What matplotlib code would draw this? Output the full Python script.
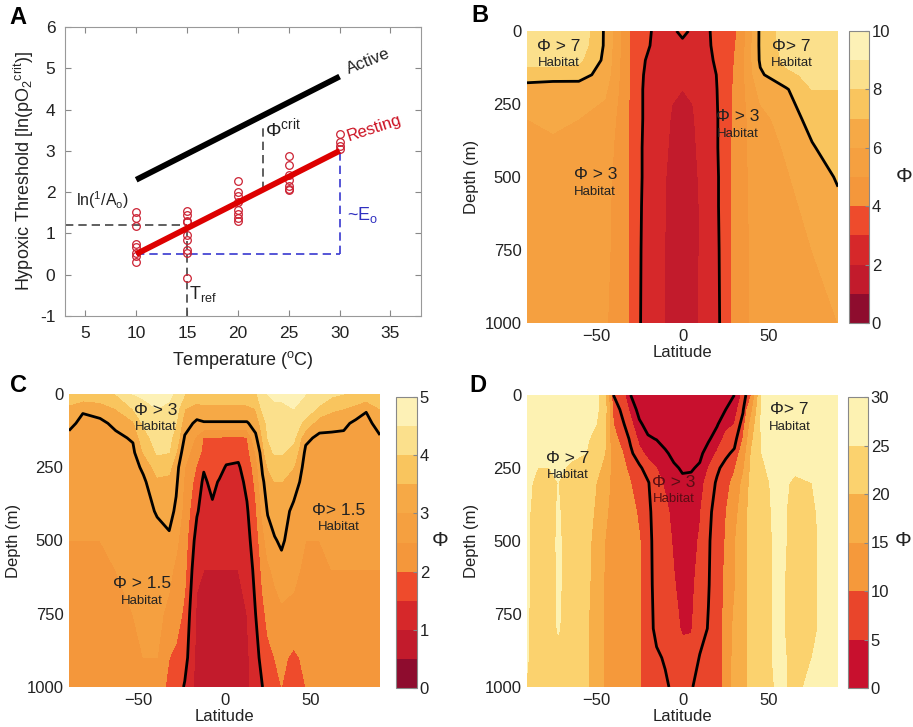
import numpy as np
import matplotlib
matplotlib.use('Agg')
import matplotlib.pyplot as plt

plt.rcParams['font.family'] = ['Liberation Sans', 'DejaVu Sans']
plt.rcParams['mathtext.fontset'] = 'custom'
plt.rcParams['mathtext.rm'] = 'Liberation Sans'
plt.rcParams['mathtext.it'] = 'Liberation Sans:italic'
plt.rcParams['mathtext.bf'] = 'Liberation Sans:bold'

# ---- panel A data ----
obs_T = [10, 15, 20, 25, 30]
obs_pcrit = [[1.52, 1.37, 1.17, 0.75, 0.67, 0.52, 0.45, 0.31],
             [1.55, 1.45, 1.30, 1.27, 0.97, 0.84, 0.60, 0.52, -0.09],
             [2.27, 2.00, 1.90, 1.75, 1.56, 1.48, 1.37, 1.29],
             [2.88, 2.65, 2.42, 2.30, 2.15, 2.08, 2.05],
             [3.40, 3.22, 3.12, 3.05]]
fit_T = [10, 30]
resting_fit = [0.5, 3.0]
active_fit = [2.3, 4.8]
ln_inv_A0 = 1.2
T_ref = 15
phi_crit_T = 22.5
phi_crit_top = 3.66

# ---- panel B data (one list per latitude, values down the depth axis) ----
lat_b = [-90, -75, -60, -45, -35, -28, -22, -18, -12, -6, 0, 6, 12, 16, 20, 26, 33, 45, 60, 75, 90]
depth_b = [0, 50, 100, 150, 200, 300, 400, 500, 600, 750, 1000]
phi_b = [
    [8.5, 8.5, 8.3, 7.6, 6.5, 6.0, 5.8, 5.6, 5.5, 5.5, 5.4],
    [8.8, 8.7, 8.4, 7.5, 6.4, 6.1, 5.9, 5.8, 5.7, 5.6, 5.5],
    [8.8, 8.6, 8.2, 7.4, 6.5, 6.0, 5.8, 5.6, 5.5, 5.5, 5.4],
    [6.9, 6.9, 6.8, 6.6, 6.2, 5.6, 5.4, 5.3, 5.2, 5.2, 5.1],
    [4.8, 4.8, 4.75, 4.7, 4.7, 4.65, 4.6, 4.6, 4.6, 4.55, 4.5],
    [3.5, 3.5, 3.5, 3.5, 3.5, 3.5, 3.5, 3.5, 3.5, 3.5, 3.5],
    [3.3, 3.2, 3.05, 2.95, 2.9, 2.9, 2.85, 2.85, 2.8, 2.75, 2.7],
    [3.0, 2.95, 2.65, 2.55, 2.5, 2.45, 2.45, 2.4, 2.4, 2.35, 2.3],
    [2.6, 2.5, 2.4, 2.3, 2.25, 2.2, 2.15, 2.1, 2.1, 2.05, 2.05],
    [2.7, 2.5, 2.3, 2.15, 2.05, 1.95, 1.9, 1.85, 1.85, 1.85, 1.85],
    [3.4, 2.6, 2.35, 2.15, 2.0, 1.9, 1.85, 1.8, 1.8, 1.8, 1.8],
    [2.7, 2.5, 2.3, 2.15, 2.05, 1.95, 1.9, 1.85, 1.85, 1.85, 1.9],
    [2.7, 2.6, 2.45, 2.35, 2.3, 2.25, 2.2, 2.15, 2.1, 2.1, 2.1],
    [3.0, 2.95, 2.85, 2.6, 2.5, 2.45, 2.45, 2.4, 2.4, 2.35, 2.3],
    [3.5, 3.4, 3.2, 3.05, 3.0, 2.95, 2.95, 2.9, 2.9, 2.85, 2.8],
    [3.6, 3.6, 3.6, 3.6, 3.6, 3.6, 3.6, 3.6, 3.6, 3.6, 3.6],
    [4.1, 4.2, 4.3, 4.4, 4.5, 4.6, 4.7, 4.7, 4.7, 4.7, 4.7],
    [7.2, 7.2, 7.15, 6.85, 6.3, 5.7, 5.5, 5.4, 5.4, 5.3, 5.3],
    [8.5, 8.4, 8.2, 7.8, 6.9, 6.4, 6.1, 5.9, 5.8, 5.7, 5.6],
    [8.8, 8.7, 8.5, 8.2, 8.0, 7.4, 6.9, 6.5, 6.2, 6.0, 5.8],
    [8.6, 8.5, 8.4, 8.2, 8.0, 7.8, 7.6, 7.1, 6.8, 6.3, 6.0],
]
levels_b = [0, 1, 2, 3, 4, 5, 6, 7, 8, 9, 10]
lines_b = [3, 7]

# ---- panel C data ----
lat_c = [-90, -82, -72, -63, -53, -47, -39, -32, -28, -23, -16, -12, -7, -3, 1, 8, 13, 18,
         22, 25, 29, 33, 40, 47, 55, 62, 69, 76, 82, 90]
depth_c = [0, 50, 100, 150, 200, 250, 300, 400, 500, 600, 750, 900, 1000]
phi_c = [
    [3.8, 3.4, 3.1, 2.9, 2.8, 2.7, 2.6, 2.6, 2.5, 2.5, 2.5, 2.4, 2.4],
    [3.9, 3.05, 2.9, 2.8, 2.7, 2.7, 2.6, 2.6, 2.5, 2.5, 2.5, 2.4, 2.4],
    [3.9, 3.2, 2.9, 2.8, 2.75, 2.7, 2.6, 2.6, 2.5, 2.5, 2.5, 2.5, 2.4],
    [4.0, 3.5, 3.1, 2.9, 2.8, 2.75, 2.7, 2.6, 2.6, 2.5, 2.5, 2.5, 2.4],
    [4.5, 4.0, 3.4, 3.05, 2.9, 2.8, 2.7, 2.65, 2.6, 2.55, 2.5, 2.5, 2.45],
    [4.6, 4.3, 4.05, 3.8, 3.5, 3.1, 2.9, 2.8, 2.7, 2.6, 2.55, 2.5, 2.5],
    [4.7, 4.5, 4.3, 4.2, 4.05, 3.7, 3.4, 3.05, 2.8, 2.7, 2.6, 2.5, 2.4],
    [4.6, 4.4, 4.2, 4.1, 4.0, 3.6, 3.4, 3.2, 2.9, 2.6, 2.4, 2.0, 1.8],
    [4.4, 4.2, 4.0, 3.8, 3.5, 3.2, 3.1, 2.9, 2.6, 2.4, 2.2, 1.9, 1.8],
    [4.0, 3.5, 3.2, 2.95, 2.7, 2.5, 2.4, 2.3, 2.2, 2.1, 1.9, 1.7, 1.45],
    [3.8, 3.3, 2.9, 2.4, 2.2, 1.95, 1.8, 1.55, 1.3, 1.1, 0.9, 0.85, 0.8],
    [3.8, 3.4, 2.95, 1.95, 1.85, 1.55, 1.4, 1.3, 1.2, 1.0, 0.85, 0.8, 0.8],
    [3.8, 3.4, 2.95, 1.95, 1.85, 1.75, 1.65, 1.4, 1.3, 1.0, 0.85, 0.8, 0.8],
    [3.8, 3.4, 2.95, 1.95, 1.8, 1.7, 1.45, 1.3, 1.2, 1.0, 0.85, 0.8, 0.8],
    [3.8, 3.4, 2.95, 1.9, 1.75, 1.45, 1.4, 1.3, 1.2, 1.0, 0.85, 0.8, 0.8],
    [3.8, 3.4, 2.95, 1.9, 1.6, 1.45, 1.35, 1.25, 1.2, 1.0, 0.85, 0.8, 0.8],
    [3.8, 3.4, 2.95, 1.95, 1.8, 1.7, 1.6, 1.45, 1.35, 1.2, 1.0, 0.9, 0.9],
    [3.9, 3.5, 3.2, 2.9, 2.5, 2.2, 2.1, 1.9, 1.75, 1.65, 1.5, 1.3, 1.2],
    [4.3, 4.1, 3.7, 3.5, 3.3, 3.1, 2.9, 2.6, 2.3, 2.1, 1.9, 1.7, 1.5],
    [4.5, 4.3, 4.1, 4.0, 3.8, 3.5, 3.3, 3.05, 2.7, 2.4, 2.1, 1.9, 1.8],
    [4.6, 4.4, 4.2, 4.1, 4.05, 3.7, 3.5, 3.3, 2.95, 2.6, 2.3, 2.0, 1.9],
    [4.6, 4.4, 4.2, 4.1, 4.05, 3.7, 3.5, 3.3, 3.1, 2.8, 2.4, 2.1, 2.0],
    [4.7, 4.5, 4.3, 4.1, 3.8, 3.5, 3.3, 2.85, 2.7, 2.6, 2.4, 1.9, 1.8],
    [4.5, 4.3, 3.8, 3.1, 2.9, 2.8, 2.7, 2.6, 2.5, 2.4, 2.3, 2.1, 2.0],
    [4.3, 3.9, 3.2, 2.9, 2.8, 2.7, 2.65, 2.6, 2.5, 2.5, 2.4, 2.3, 2.3],
    [4.1, 3.6, 3.15, 2.9, 2.8, 2.7, 2.65, 2.6, 2.55, 2.5, 2.45, 2.4, 2.4],
    [4.0, 3.5, 3.1, 2.9, 2.8, 2.7, 2.65, 2.6, 2.55, 2.5, 2.45, 2.4, 2.4],
    [4.0, 3.3, 2.9, 2.8, 2.75, 2.7, 2.65, 2.6, 2.55, 2.5, 2.45, 2.4, 2.4],
    [3.9, 3.05, 2.85, 2.8, 2.75, 2.7, 2.65, 2.6, 2.55, 2.5, 2.45, 2.4, 2.4],
    [3.8, 3.5, 3.2, 2.95, 2.85, 2.8, 2.7, 2.6, 2.55, 2.5, 2.45, 2.4, 2.4],
]
levels_c = [0, 0.5, 1, 1.5, 2, 2.5, 3, 3.5, 4, 4.5, 5]
lines_c = [1.5, 3]

# ---- panel D data ----
lat_d = [-90, -84, -77, -72, -64, -56, -50, -45, -40, -35, -30, -25, -20, -15, -10, -5, 0, 5,
         10, 15, 20, 25, 30, 35, 40, 46, 55, 65, 75, 85, 90]
depth_d = [0, 50, 100, 150, 200, 250, 300, 400, 500, 650, 800, 900, 1000]
phi_d = [
    [27, 27, 27, 27, 27, 26.5, 26, 26, 26, 26, 25.5, 25.5, 24.5],
    [27, 27, 27, 26.5, 26, 25, 24, 22.5, 22, 22, 22, 21.5, 21.5],
    [27, 27, 26.5, 26, 25.5, 25, 24, 23, 22, 21.5, 21.5, 21.5, 21.5],
    [27, 27, 26.5, 26, 26, 25.5, 25, 25.5, 26, 26, 25.5, 23, 22],
    [26.5, 26.5, 26, 26, 25.5, 24.5, 23, 22, 21.5, 21.5, 21.5, 21.5, 21.5],
    [26.5, 26.5, 26, 25.5, 25, 23.5, 22, 21.5, 21, 21, 20.5, 20.5, 20.5],
    [26, 26, 25, 24, 22, 21, 20, 19.5, 19, 18.5, 18.5, 18.5, 18.5],
    [22, 22, 21.5, 21, 20, 19, 18, 16, 15, 14.5, 14.5, 14.5, 14.5],
    [7, 8.5, 10, 11, 12, 12.5, 13, 13, 13, 13, 13, 13, 13],
    [6.0, 6.5, 7.5, 9, 10.2, 11, 11.5, 12, 12, 12, 12, 12, 12],
    [3.0, 4.5, 5.5, 6.5, 7.5, 9, 10, 11, 11, 11, 11, 11, 11],
    [1.5, 2.2, 3.4, 4.5, 5.5, 7.5, 8.5, 9.5, 10.2, 10.5, 10.5, 10.5, 10.5],
    [1.2, 1.6, 2.2, 3.3, 4.5, 5.8, 7.2, 7.6, 7.8, 7.8, 7.8, 7.6, 7.6],
    [1.0, 1.3, 1.8, 2.9, 4.3, 5.0, 5.4, 5.8, 6.0, 6.2, 6.5, 7.3, 7.6],
    [0.8, 1.0, 1.4, 2.0, 3.4, 4.4, 4.8, 5.3, 5.6, 5.8, 6.2, 6.8, 7.3],
    [0.6, 0.8, 1.1, 1.5, 2.3, 3.4, 4.2, 4.6, 4.8, 5.1, 5.5, 6.0, 6.6],
    [0.5, 0.7, 1.0, 1.4, 2.0, 2.7, 3.5, 4.0, 4.3, 4.5, 4.8, 5.6, 6.5],
    [0.5, 0.7, 1.0, 1.4, 2.1, 2.8, 3.5, 4.0, 4.3, 4.5, 4.8, 6.0, 6.8],
    [0.6, 0.8, 1.1, 1.6, 2.5, 3.3, 4.2, 4.8, 5.2, 5.8, 6.3, 7.1, 7.8],
    [0.8, 1.0, 1.6, 2.7, 4.0, 5.0, 5.8, 6.6, 6.8, 6.9, 7.1, 7.8, 8.2],
    [1.2, 1.8, 2.8, 4.0, 5.2, 6.6, 7.3, 7.7, 7.9, 8.0, 8.0, 8.2, 8.5],
    [2.0, 3.0, 4.5, 5.5, 6.5, 7.8, 8.8, 9.8, 10.2, 10.8, 11, 11, 11],
    [3.0, 4.0, 5.0, 6.0, 7.5, 9.5, 11, 13, 14.5, 14.5, 16, 16.5, 16.5],
    [5.5, 6.7, 8, 10, 12, 14, 16, 17.5, 18, 18, 18, 18, 18],
    [10, 14, 17, 19, 20.5, 21, 21.5, 22, 22, 22, 22, 22, 22],
    [25.5, 26, 26, 25.5, 25, 24.5, 24, 23.5, 23, 23, 23, 23, 23],
    [27, 27, 27, 27, 26.5, 26.5, 26, 26, 26, 26, 26, 26, 25.5],
    [27, 27, 27, 26.5, 26, 25.5, 24.5, 24, 24, 23.5, 23.5, 24, 24.5],
    [27, 27, 27, 26.5, 26, 25.5, 25, 24.5, 24.5, 24.5, 24.5, 25, 25.5],
    [27, 27, 27, 27, 27, 27, 26.5, 26.5, 26, 26, 26, 26, 26],
    [27, 27, 27, 27, 27, 27, 26.5, 26.5, 26, 26, 26, 26, 26],
]
levels_d = [0, 5, 10, 15, 20, 25, 30]
lines_d = [3, 7]

# colour bands
colors_bc = ['#8e0c2e', '#c21b2c', '#d6282a', '#ee4b2c', '#f4973b',
             '#f5a040', '#f6a946', '#f9c55e', '#fbe08c', '#fdf1b6']
colors_d = ['#c8102e', '#e9452b', '#f5993b', '#f7ae48', '#fbd26e', '#fdf2b2']

W, H = 913, 727
fig = plt.figure(figsize=(W / 100, H / 100), dpi=100)

def box(l, r, t, b):
    return [l / W, 1 - b / H, (r - l) / W, (b - t) / H]

txt = '#222222'

# ---------------- A ----------------
ax = fig.add_axes(box(65, 421, 27, 316))
ax.plot([3, T_ref], [ln_inv_A0, ln_inv_A0], color='#444444', ls=(0, (5, 3)), lw=1.2)
ax.plot([T_ref, T_ref], [-1, ln_inv_A0], color='#444444', ls=(0, (5, 3)), lw=1.2)
ax.plot([fit_T[0], fit_T[1]], [resting_fit[0], resting_fit[0]], color='#3838d0', ls=(0, (5, 3)), lw=1.2)
ax.plot([fit_T[1], fit_T[1]], [resting_fit[0], resting_fit[1]], color='#3838d0', ls=(0, (5, 3)), lw=1.2)
ax.plot([phi_crit_T, phi_crit_T], [np.interp(phi_crit_T, fit_T, resting_fit), phi_crit_top],
        color='#444444', ls=(0, (5, 3)), lw=1.2)
for T, vals in zip(obs_T, obs_pcrit):
    ax.plot([T] * len(vals), vals, 'o', ms=5.5, mfc='none', mec='#cc2233', mew=0.9, zorder=3)
ax.plot(fit_T, active_fit, color='black', lw=4.2, solid_capstyle='butt', zorder=4)
ax.plot(fit_T, resting_fit, color='#dd0000', lw=4.2, solid_capstyle='butt', zorder=4)
ax.set_xlim(3, 38)
ax.set_ylim(-1, 6)
ax.set_xticks([5, 10, 15, 20, 25, 30, 35])
ax.set_yticks(range(-1, 7))
ax.set_yticklabels([str(v) for v in range(-1, 7)])
ax.tick_params(direction='in', length=4, top=True, right=True, labelsize=12.5,
               colors='#888888', labelcolor=txt, pad=7)
for s in ax.spines.values():
    s.set_color('#999999')
ax.set_xlabel(r'Temperature ($^\mathrm{o}$C)', fontsize=13, color=txt, labelpad=6)
ax.set_ylabel(r'Hypoxic Threshold [ln(pO$_2$$^\mathrm{crit}$)]', fontsize=13, color=txt, labelpad=3)
ax.text(31.0, 4.8, 'Active', fontsize=12, color=txt, rotation=22, rotation_mode='anchor',
        ha='left', va='bottom')
ax.text(31.0, 3.17, 'Resting', fontsize=12, color='#cc1122', rotation=18, rotation_mode='anchor',
        ha='left', va='bottom')
ax.text(22.7, 3.25, r'Φ$^\mathrm{crit}$', fontsize=14, color=txt, ha='left', va='bottom')
ax.text(4.1, 1.55, r'ln($^1$/A$_\mathrm{o}$)', fontsize=11.5, color=txt, ha='left', va='bottom')
ax.text(15.2, -0.72, r'T$_\mathrm{ref}$', fontsize=13, color=txt, ha='left', va='bottom')
ax.text(30.7, 1.2, r'~E$_\mathrm{o}$', fontsize=13, color='#3030c0', ha='left', va='bottom')
fig.text(18 / W, 1 - 17 / H, 'A', fontsize=17, fontweight='bold',
         family=['Liberation Sans Narrow', 'Liberation Sans'], ha='center', va='center')


# ---------------- heat maps ----------------
def heat(pos, cpos, lat, depth, cols, levels, colors, lines, ticks, letter, lx, ly, phx, notes):
    ax = fig.add_axes(box(*pos))
    Z = np.array(cols, dtype=float).T
    cf = ax.contourf(lat, depth, Z, levels=levels, colors=colors)
    ax.contour(lat, depth, Z, levels=lines, colors='black', linewidths=2.0)
    ax.set_xlim(-90, 90)
    ax.set_ylim(1000, 0)
    ax.set_xticks([-50, 0, 50])
    ax.set_xticklabels(['\u221250', '0', '50'])
    ax.set_yticks([0, 250, 500, 750, 1000])
    ax.tick_params(length=0, labelsize=12, labelcolor=txt, pad=4)
    for s in ax.spines.values():
        s.set_visible(False)
    ax.set_xlabel('Latitude', fontsize=12, color=txt, labelpad=1)
    ax.set_ylabel('Depth (m)', fontsize=12, color=txt, labelpad=4)
    for (t1, x, y, c) in notes:
        ax.text(x, y, t1, fontsize=12.5, color=c, ha='center', va='center')
        ax.text(x, y + 58, 'Habitat', fontsize=9.5, color=c, ha='center', va='center')
    cax = fig.add_axes(box(*cpos))
    cb = fig.colorbar(cf, cax=cax, ticks=ticks)
    cb.outline.set_edgecolor('#888888')
    cb.outline.set_linewidth(0.8)
    cax.tick_params(direction='in', length=3, labelsize=12, labelcolor=txt, color='#888888', pad=2)
    fig.text(phx / W, 1 - (pos[2] + pos[3]) / 2 / H, 'Φ', fontsize=15, color=txt,
             ha='center', va='center')
    fig.text(lx / W, 1 - ly / H, letter, fontsize=17, fontweight='bold',
             family=['Liberation Sans Narrow', 'Liberation Sans'], ha='center', va='center')


heat((527, 838, 31, 323), (849, 869, 31, 323), lat_b, depth_b, phi_b, levels_b, colors_bc,
     lines_b, [0, 2, 4, 6, 8, 10], 'B', 480, 15, 904,
     [('Φ > 7', -71.5, 52, txt), ('Φ> 7', 63, 52, txt),
      ('Φ > 3', 32, 294, txt), ('Φ > 3', -50.5, 493, txt)])

heat((69, 380, 394, 687), (396, 417, 397, 688), lat_c, depth_c, phi_c, levels_c, colors_bc,
     lines_c, [0, 1, 2, 3, 4, 5], 'C', 18, 385, 440,
     [('Φ > 3', -40, 55, txt), ('Φ> 1.5', 66, 396, txt), ('Φ > 1.5', -48, 648, txt)])

heat((527, 838, 395, 687), (848, 868, 397, 688), lat_d, depth_d, phi_d, levels_d, colors_d,
     lines_d, [0, 5, 10, 15, 20, 25, 30], 'D', 478, 385, 903,
     [('Φ > 7', -66.5, 216, txt), ('Φ> 7', 62, 51, txt), ('Φ > 3', -5, 298, '#5a0d14')])

fig.savefig('out.png', dpi=100)
